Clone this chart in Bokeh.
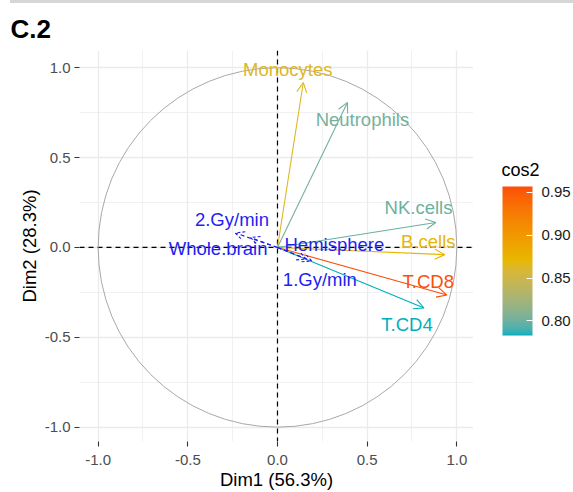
from bokeh.plotting import figure
from bokeh.layouts import row, column
from bokeh.core.properties import value
from bokeh.models import (Range1d, Span, Arrow, OpenHead, ColumnDataSource, LabelSet, Div,
                          LinearColorMapper, ColorBar, FixedTicker, PrintfTickFormatter)
from bokeh.embed import file_html
from bokeh.resources import INLINE

# ---------------- data ----------------
variables = ["Monocytes", "Neutrophils", "NK.cells", "B.cells", "T.CD8", "T.CD4"]
dim1 = [0.144, 0.390, 0.883, 0.933, 0.945, 0.817]
dim2 = [0.918, 0.807, 0.139, -0.040, -0.265, -0.337]
cos2 = [0.864, 0.803, 0.799, 0.872, 0.957, 0.783]

sup_variables = ["2.Gy/min", "Whole.brain", "Hemisphere", "1.Gy/min"]
sup_dim1 = [-0.235, -0.150, 0.160, 0.190]
sup_dim2 = [0.080, 0.055, -0.065, -0.075]

circle_radius = [1.0]
cos2_ticks = [0.80, 0.85, 0.90, 0.95]
axis_ticks = [-1.0, -0.5, 0.0, 0.5, 1.0]
x_title = "Dim1 (56.3%)"
y_title = "Dim2 (28.3%)"
panel_title = "C.2"
legend_title = "cos2"

# ---------------- styles ----------------
FONT = "Liberation Sans"
gradient = ["#00AFBB", "#E7B800", "#FC4E07"]
sup_color = "#1F1FF0"
# label offsets in pixels (dx right, dy up)
lab_dx = [-15.5, 15.0, -17.3, -16.5, -18.7, -17.0]
lab_dy = [13.4, -16.8, 15.4, 13.1, 14.0, -16.7]
sup_dx = [-3.4, -32.5, 28.2, 8.3]
sup_dy = [14.0, -10.7, 15.1, -18.1]


def _lin(c):
    c = c / 255.0
    return c / 12.92 if c <= 0.04045 else ((c + 0.055) / 1.055) ** 2.4


def _unlin(c):
    c = 12.92 * c if c <= 0.0031308 else 1.055 * c ** (1 / 2.4) - 0.055
    return max(0, min(255, round(c * 255)))


def hex2lab(h):
    r, g, b = (_lin(int(h[i:i + 2], 16)) for i in (1, 3, 5))
    X = (0.4124564 * r + 0.3575761 * g + 0.1804375 * b) / 0.95047
    Y = (0.2126729 * r + 0.7151522 * g + 0.0721750 * b)
    Z = (0.0193339 * r + 0.1191920 * g + 0.9503041 * b) / 1.08883
    f = lambda t: t ** (1 / 3) if t > 0.008856 else 7.787 * t + 16 / 116
    fx, fy, fz = f(X), f(Y), f(Z)
    return (116 * fy - 16, 500 * (fx - fy), 200 * (fy - fz))


def lab2hex(L, a, b):
    fy = (L + 16) / 116
    fx = fy + a / 500
    fz = fy - b / 200
    finv = lambda t: t ** 3 if t ** 3 > 0.008856 else (t - 16 / 116) / 7.787
    X, Y, Z = finv(fx) * 0.95047, finv(fy), finv(fz) * 1.08883
    r = 3.2404542 * X - 1.5371385 * Y - 0.4985314 * Z
    g = -0.9692660 * X + 1.8760108 * Y + 0.0415560 * Z
    bb = 0.0556434 * X - 0.2040259 * Y + 1.0572252 * Z
    return "#%02X%02X%02X" % (_unlin(r), _unlin(g), _unlin(bb))


labs = [hex2lab(c) for c in gradient]


def ramp(t):
    t = max(0.0, min(1.0, t))
    seg = min(int(t * (len(labs) - 1)), len(labs) - 2)
    u = t * (len(labs) - 1) - seg
    l0, l1 = labs[seg], labs[seg + 1]
    return lab2hex(*[l0[k] + (l1[k] - l0[k]) * u for k in range(3)])


lo, hi = min(cos2), max(cos2)
palette = [ramp(i / 255) for i in range(256)]
colors = [ramp((c - lo) / (hi - lo)) for c in cos2]

# ---------------- main figure ----------------
p = figure(width=473, height=489, x_range=Range1d(-1.104, 1.093), y_range=Range1d(-1.08, 1.096),
           output_backend="svg", toolbar_location=None,
           min_border_left=79, min_border_right=0, min_border_top=47, min_border_bottom=51)
p.outline_line_color = None
p.background_fill_color = "white"
p.border_fill_color = "white"

p.title.text = panel_title
p.title.text_font = FONT
p.title.text_font_size = "26px"
p.title.text_font_style = "bold"
p.title.text_color = "#000000"
p.title.align = "left"
p.title.offset = -69
p.title.standoff = 14

minor = [(a + b) / 2 for a, b in zip(axis_ticks[:-1], axis_ticks[1:])]
for ax in (p.xaxis[0], p.yaxis[0]):
    ax.ticker = FixedTicker(ticks=axis_ticks, minor_ticks=minor)
    ax.formatter = PrintfTickFormatter(format="%.1f")
    ax.axis_line_color = None
    ax.minor_tick_line_color = None
    ax.major_tick_out = 5
    ax.major_tick_in = 0
    ax.major_tick_line_color = "#333333"
    ax.major_tick_line_width = 1.1
    ax.major_label_text_font = FONT
    ax.major_label_text_font_size = "15px"
    ax.major_label_text_color = "#4D4D4D"
    ax.axis_label_text_font = FONT
    ax.axis_label_text_font_size = "18.5px"
    ax.axis_label_text_font_style = "normal"
    ax.axis_label_text_color = "#000000"
p.xaxis.axis_label = x_title
p.yaxis.axis_label = y_title
p.xaxis.major_label_standoff = 8
p.xaxis.axis_label_standoff = 1
p.yaxis.major_label_standoff = 4
p.yaxis.axis_label_standoff = 2

for g in (p.xgrid[0], p.ygrid[0]):
    g.grid_line_color = "#EBEBEB"
    g.grid_line_width = 1.3
    g.minor_grid_line_color = "#EBEBEB"
    g.minor_grid_line_width = 0.7

# correlation circle
p.ellipse(x=[0], y=[0], width=[2 * r for r in circle_radius], height=[2 * r for r in circle_radius],
          fill_color=None, line_color="#A8A8A8", line_width=1)

for dim in ("width", "height"):
    s = Span(location=0, dimension=dim, line_color="black", line_dash="5 4", line_width=1.2)
    s.level = "underlay"
    p.add_layout(s)

# active variable arrows
for x, y, c in zip(dim1, dim2, colors):
    p.add_layout(Arrow(x_start=0, y_start=0, x_end=x, y_end=y, line_color=c, line_width=1.1,
                       end=OpenHead(size=10, line_color=c, line_width=1.1)))
# supplementary variable arrows
for x, y in zip(sup_dim1, sup_dim2):
    p.add_layout(Arrow(x_start=0, y_start=0, x_end=x, y_end=y, line_color=sup_color, line_width=1.1,
                       line_dash="4 3",
                       end=OpenHead(size=9, line_color=sup_color, line_width=1.1, line_dash="3 2")))

src = ColumnDataSource(dict(x=dim1, y=dim2, name=variables, col=colors, dx=lab_dx, dy=lab_dy))
p.add_layout(LabelSet(x="x", y="y", text="name", source=src, x_offset="dx", y_offset="dy",
                      text_color="col", text_font=value(FONT), text_font_size=value("18.5px"),
                      text_align="center", text_baseline="middle"))
ssrc = ColumnDataSource(dict(x=sup_dim1, y=sup_dim2, name=sup_variables, dx=sup_dx, dy=sup_dy))
p.add_layout(LabelSet(x="x", y="y", text="name", source=ssrc, x_offset="dx", y_offset="dy",
                      text_color=sup_color, text_font=value(FONT), text_font_size=value("18.5px"),
                      text_align="center", text_baseline="middle"))

# ---------------- legend figure (colour bar) ----------------
# its frame is aligned with the main frame (391 px tall), 1 unit = 1 px
q = figure(width=100, height=489, x_range=Range1d(0, 100), y_range=Range1d(0, 391),
           output_backend="svg", toolbar_location=None, title=None,
           min_border_left=0, min_border_right=0, min_border_top=47, min_border_bottom=51)
q.axis.visible = False
q.grid.visible = False
q.outline_line_color = None
q.background_fill_color = "white"
q.border_fill_color = "white"
q.text(x=[28], y=[272], text=[legend_title], text_font=value(FONT), text_font_size=value("18px"),
       text_color="#000000", text_baseline="middle", text_align="left")

mapper = LinearColorMapper(palette=palette, low=lo, high=hi)
cb = ColorBar(color_mapper=mapper, ticker=FixedTicker(ticks=cos2_ticks),
              formatter=PrintfTickFormatter(format="%.2f"), width=30, height=149,
              major_label_text_font=FONT, major_label_text_font_size="15px",
              major_label_text_color="#1A1A1A", label_standoff=9,
              major_tick_line_color="white", major_tick_in=6, major_tick_out=0,
              minor_tick_line_color=None, bar_line_color=None, border_line_color=None,
              background_fill_color=None, padding=0, margin=0, location=(29, 106))
q.add_layout(cb)

# ---------------- thin rule at the very top ----------------
rule = Div(text="", width=563, height=3, margin=(0, 0, 0, 10),
           styles={"background-color": "#D6D6D6"})

layout = column(rule, row(p, q, spacing=0), spacing=0)
open("out.html", "w").write(file_html(layout, INLINE))
